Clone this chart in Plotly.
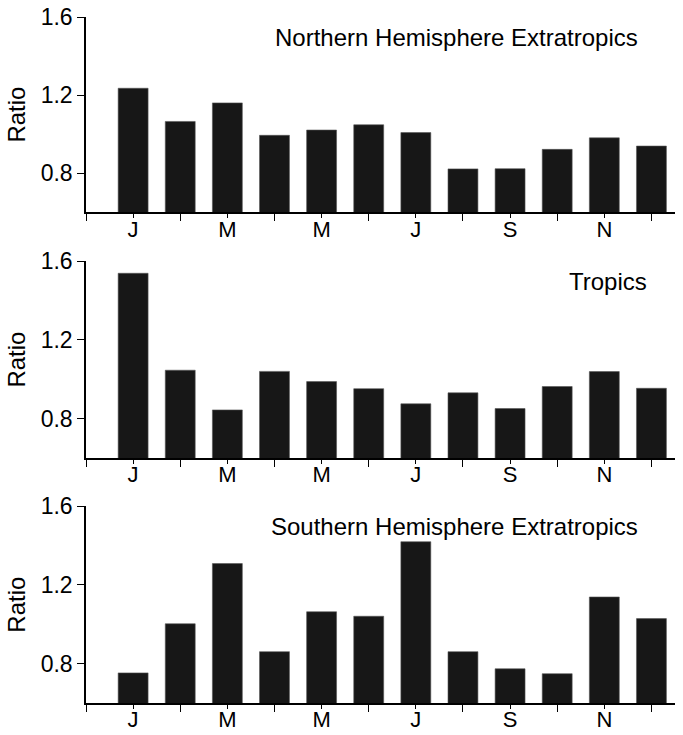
import plotly.graph_objects as go

# monthly ratios, Jan..Dec
months = list(range(1, 13))
nh_extratropics = [1.235, 1.065, 1.160, 0.994, 1.021, 1.048, 1.008, 0.822, 0.823, 0.922, 0.981, 0.939]
tropics = [1.539, 1.046, 0.844, 1.040, 0.988, 0.952, 0.875, 0.931, 0.851, 0.963, 1.039, 0.954]
sh_extratropics = [0.753, 1.003, 1.309, 0.861, 1.064, 1.041, 1.420, 0.861, 0.774, 0.749, 1.139, 1.029]

panel_titles = ["Northern Hemisphere Extratropics", "Tropics", "Southern Hemisphere Extratropics"]
month_ticks = [1, 3, 5, 7, 9, 11]
month_labels = ["J", "M", "M", "J", "S", "N"]
y_ticks = [0.8, 1.2, 1.6]

FONT = "Liberation Sans, Arial, sans-serif"
BAR = "#171717"

series = [nh_extratropics, tropics, sh_extratropics]
domains = [[0.7154, 1.0], [0.3573, 0.6439], [0.0, 0.2867]]
title_pos = [0.318, 0.816, 0.311]

fig = go.Figure()
layout = {}
for i, vals in enumerate(series):
    n = "" if i == 0 else str(i + 1)
    fig.add_trace(go.Bar(x=months, y=vals, xaxis="x" + n, yaxis="y" + n,
                         width=0.635, marker=dict(color=BAR, line=dict(color="#555555", width=0.6)),
                         showlegend=False))
    layout["xaxis" + n] = dict(
        domain=[0, 1], anchor="y" + n, range=[0, 12.5], automargin=False,
        tickvals=month_ticks, ticktext=month_labels, ticks="outside", ticklen=4,
        tickwidth=1.2, tickcolor="black", ticklabelstandoff=-8,
        minor=dict(tickvals=list(range(0, 13, 2)), ticks="outside", ticklen=7, tickwidth=1.2, tickcolor="black"),
        showline=True, linecolor="black", linewidth=2, showgrid=False, zeroline=False,
        tickfont=dict(size=22, color="black", family=FONT),
    )
    layout["yaxis" + n] = dict(
        domain=domains[i], anchor="x" + n, range=[0.6, 1.6], automargin=False,
        tickvals=y_ticks, ticktext=["0.8", "1.2", "1.6"], ticks="outside", ticklen=7,
        tickwidth=1.2, tickcolor="black",
        showline=True, linecolor="black", linewidth=1.5, showgrid=False, zeroline=False,
        tickfont=dict(size=23, color="black", family=FONT),
    )

fig.update_layout(**layout)

annotations = []
for i, t in enumerate(panel_titles):
    n = "" if i == 0 else str(i + 1)
    annotations.append(dict(text=t, xref="x" + n + " domain", yref="y" + n + " domain",
                            x=title_pos[i], y=0.895, xanchor="left", yanchor="middle", showarrow=False,
                            font=dict(size=24, color="black", family=FONT)))
    annotations.append(dict(text="Ratio", xref="paper", yref="y" + n + " domain",
                            x=0, xshift=-69, y=0.5, xanchor="center", yanchor="middle",
                            textangle=-90, showarrow=False,
                            font=dict(size=24, color="black", family=FONT)))

fig.update_layout(
    width=683, height=735,
    margin=dict(l=86, r=8, t=17, b=32),
    plot_bgcolor="white", paper_bgcolor="white",
    annotations=annotations,
    font=dict(family=FONT, color="black"),
)

# drop the default 8px page margin so the figure fills the window
fig.write_html("out.html", config={"displayModeBar": False},
               post_script="document.body.style.margin='0';")
